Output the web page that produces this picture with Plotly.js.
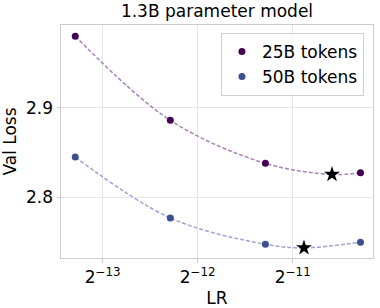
<!DOCTYPE html>
<html><head><meta charset="utf-8">
<script src="https://cdn.plot.ly/plotly-3.0.1.min.js"></script>
<style>html,body{margin:0;padding:0;background:#fff}</style>
</head><body><div id="chart" style="width:380px;height:308px"></div>
<script>
const lrs = [1e-4, 2e-4, 4e-4, 8e-4];
const loss25 = [2.980, 2.886, 2.838, 2.8275];
const loss50 = [2.845, 2.777, 2.7476, 2.750];
const best25 = {lr: 6.5e-4, loss: 2.8256};
const best50 = {lr: 5.3e-4, loss: 2.7437};
const names = ["25B tokens", "50B tokens"];
const colors = ["#440154", "#3b4f91"];
const lineColors = ["#a983bb", "#9fa3d3"];
const tickVals = [Math.pow(2,-13), Math.pow(2,-12), Math.pow(2,-11)];
const tickText = ["2<sup>\u221213</sup>", "2<sup>\u221212</sup>", "2<sup>\u221211</sup>"];

function curve(ys, best){
  const pts = lrs.map((x,i)=>({x:x,y:ys[i]}));
  pts.push({x:best.lr,y:best.loss});
  pts.sort((a,b)=>a.x-b.x);
  return pts;
}
const series = [[loss25,best25],[loss50,best50]];
const traces = [];
series.forEach(([ys,best],k)=>{
  const c = curve(ys,best);
  traces.push({x:c.map(p=>p.x), y:c.map(p=>p.y), mode:'lines', type:'scatter',
    line:{color:lineColors[k], width:1.5, dash:'4px,2px', shape:'spline', smoothing:1},
    showlegend:false, hoverinfo:'skip'});
});
series.forEach(([ys,best],k)=>{
  traces.push({x:lrs, y:ys, mode:'markers', type:'scatter', name:names[k],
    marker:{color:colors[k], size:7}});
});
series.forEach(([ys,best],k)=>{
  traces.push({x:[best.lr], y:[best.loss], mode:'markers', type:'scatter', showlegend:false,
    marker:{color:'#000', size:12, symbol:'star'}});
});
const font = {family:'DejaVu Sans', size:17, color:'#000'};
const layout = {
  width:380, height:308,
  margin:{l:61, r:7, t:25, b:50},
  paper_bgcolor:'#fff', plot_bgcolor:'#fff',
  font: font,
  title:{text:'1.3B parameter model', font:font, xref:'paper', x:0.5, xanchor:'center', y:0.985, yanchor:'top'},
  xaxis:{type:'log', range:[Math.log10(Math.pow(2,-13.4376)), Math.log10(Math.pow(2,-10.156))],
    tickvals:tickVals, ticktext:tickText, tickfont:font,
    showgrid:true, gridcolor:'#e6e6e6', gridwidth:1,
    showline:true, linecolor:'#cccccc', mirror:true, linewidth:1,
    ticks:'outside', ticklen:3.5, tickcolor:'#cccccc', zeroline:false,
    title:{text:'LR', font:font, standoff:6}},
  yaxis:{range:[2.7323, 2.9925], tickvals:[2.8,2.9], ticktext:['2.8','2.9'], tickfont:font,
    showgrid:true, gridcolor:'#e6e6e6', gridwidth:1,
    showline:true, linecolor:'#cccccc', mirror:true, linewidth:1,
    ticks:'outside', ticklen:3.5, tickcolor:'#cccccc', zeroline:false,
    title:{text:'Val Loss', font:font, standoff:6}},
  legend:{x:0.971, xanchor:'right', y:0.966, yanchor:'top', bgcolor:'rgba(255,255,255,0.8)',
    bordercolor:'#d0d0d0', borderwidth:1, font:font, tracegroupgap:0},
  showlegend:true
};
Plotly.newPlot('chart', traces, layout, {displayModeBar:false, staticPlot:true});
</script></body></html>
